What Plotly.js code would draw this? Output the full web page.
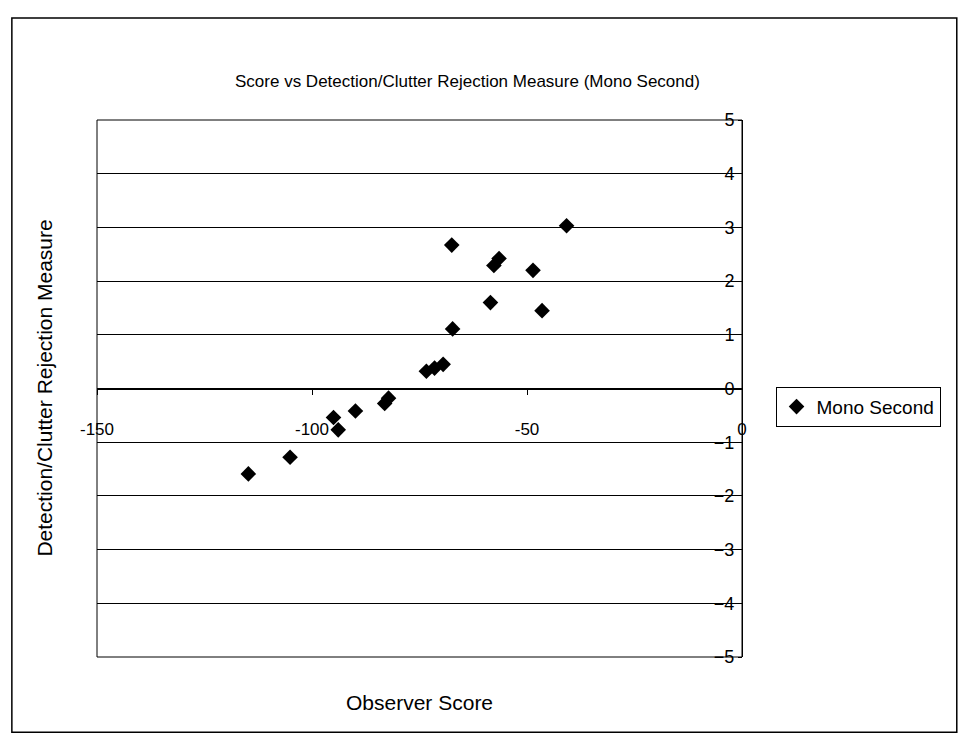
<!DOCTYPE html>
<html>
<head>
<meta charset="utf-8">
<script src="https://cdn.plot.ly/plotly-3.0.1.min.js"></script>
<style>html,body{margin:0;padding:0;background:#fff;}#chart{width:964px;height:736px;}</style>
</head>
<body>
<div id="chart"></div>
<script>
var seriesName = "Mono Second";
var observerScore = [-114.8, -105.1, -95.0, -93.9, -89.9, -83.1, -82.2, -73.4, -71.5, -69.5, -67.3, -67.5, -58.5, -57.7, -56.5, -48.6, -46.5, -40.8];
var measure =       [-1.59, -1.28, -0.54, -0.77, -0.42, -0.28, -0.18, 0.32, 0.38, 0.45, 1.11, 2.67, 1.60, 2.29, 2.42, 2.20, 1.45, 3.03];
var xTicks = [-150, -100, -50, 0];
var yTicks = [-5, -4, -3, -2, -1, 0, 1, 2, 3, 4, 5];

var font = "Liberation Sans, Arial, sans-serif";
var trace = {
  x: observerScore, y: measure, type: "scatter", mode: "markers", name: seriesName,
  marker: {symbol: "diamond", size: 12, color: "#000"}
};
var layout = {
  width: 964, height: 736,
  margin: {l: 97, r: 222, t: 120, b: 79},
  paper_bgcolor: "#fff", plot_bgcolor: "#fff",
  font: {family: font, color: "#000", size: 16},
  showlegend: true,
  legend: {x: 1.052, y: 0.466, xanchor: "left", yanchor: "middle", bordercolor: "#000", borderwidth: 1,
           font: {size: 19, family: font}, bgcolor: "#fff", itemwidth: 30, tracegroupgap: 0},
  xaxis: {range: [-150, 0], tickvals: xTicks, ticktext: xTicks.map(String), anchor: "free", position: 0.5,
          showgrid: false, zeroline: false, showline: true, linecolor: "#000", linewidth: 1,
          ticks: "outside", ticklen: 5, tickcolor: "#000", ticklabelstandoff: 20, ticklabeloverflow: "allow",
          tickfont: {size: 17, family: font}},
  yaxis: {range: [-5, 5], tickvals: yTicks, side: "left", anchor: "free", position: 1,
          showgrid: true, gridcolor: "#000", gridwidth: 1, ticklabeloverflow: "allow",
          zeroline: false, showline: true, linecolor: "#000", linewidth: 1,
          ticks: "outside", ticklen: 4, tickcolor: "#000", ticklabelstandoff: 0,
          tickfont: {size: 18, family: font}},
  shapes: [
    {type: "rect", xref: "paper", yref: "paper", x0: 0, x1: 1, y0: 0, y1: 1, line: {color: "#000", width: 1}},
    {type: "rect", xref: "paper", yref: "paper", x0: -0.132, x1: 1.333, y0: -0.140, y1: 1.19, line: {color: "#000", width: 1.5}}
  ],
  annotations: [
    {text: "Score vs Detection/Clutter Rejection Measure (Mono Second)", xref: "paper", yref: "paper",
     x: 0.575, y: 1.072, xanchor: "center", yanchor: "middle", showarrow: false, font: {size: 17, family: font}},
    {text: "Detection/Clutter Rejection Measure", xref: "paper", yref: "paper", x: -0.082, y: 0.5,
     textangle: -90, xanchor: "center", yanchor: "middle", showarrow: false, font: {size: 21, family: font}},
    {text: "Observer Score", xref: "paper", yref: "paper", x: 0.5, y: -0.085,
     xanchor: "center", yanchor: "middle", showarrow: false, font: {size: 21, family: font}}
  ]
};
Plotly.newPlot("chart", [trace], layout, {displayModeBar: false, staticPlot: true});
</script>
</body>
</html>
